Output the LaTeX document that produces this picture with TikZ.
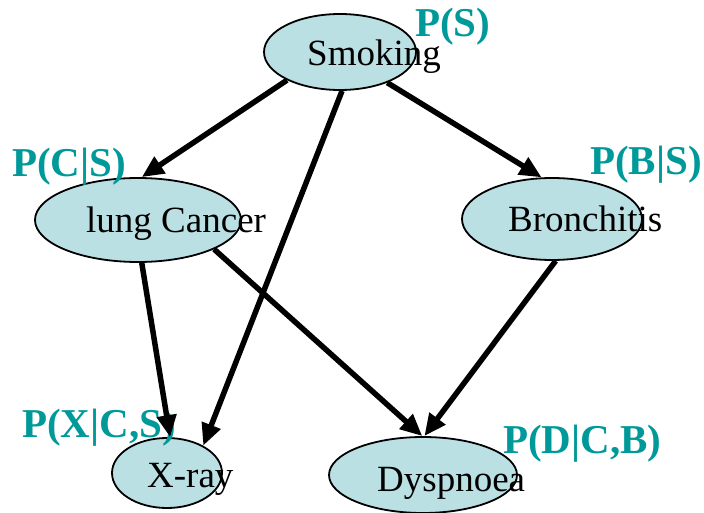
\documentclass[tikz,border=0pt]{standalone}
\usepackage{fontspec}
\setmainfont{Liberation Serif}
\usetikzlibrary{arrows.meta,shapes.geometric}
\definecolor{nodefill}{RGB}{186,224,228}
\definecolor{probteal}{RGB}{0,153,153}
\begin{document}
\begin{tikzpicture}[x=1pt,y=1pt,
  var/.style={ellipse, draw=black, line width=1.8pt, fill=nodefill, inner sep=0pt},
  vartext/.style={anchor=base west, inner sep=0pt, font=\fontsize{37}{40}\selectfont},
  prob/.style={anchor=base west, inner sep=0pt, text=probteal, font=\bfseries\fontsize{41}{44}\selectfont},
  edge/.style={line width=5.5pt, -{Triangle[length=22pt,width=19pt]}}]
\useasboundingbox (0,0) rectangle (704,-513);
% variables
\node[var, minimum width=152pt, minimum height=76pt] (smk) at (340,-52) {};
\node[var, minimum width=206pt, minimum height=84pt] (lc) at (138,-220) {};
\node[var, minimum width=180pt, minimum height=82pt] (br) at (552,-219) {};
\node[var, minimum width=110pt, minimum height=70pt] (xr) at (167,-473) {};
\node[var, minimum width=188pt, minimum height=76pt] (dy) at (423,-475) {};
% names
\node[vartext] (smkt) at (307,-66) {Smoking};
\node[vartext] (lct) at (86,-233) {lung Cancer};
\node[vartext] (brt) at (508,-232) {Bronchitis};
\node[vartext] (xrt) at (147,-487) {X-ray};
\node[vartext] (dyt) at (377,-491) {Dyspnoea};
% probabilities
\node[prob] (ps) at (415,-37) {P(S)};
\node[prob] (pcs) at (12,-177) {P(C|S)};
\node[prob] (pbs) at (590,-175) {P(B|S)};
\node[prob] (pxcs) at (22,-437) {P(X|C,S)};
\node[prob] (pdcb) at (503,-453) {P(D|C,B)};
% edges
\draw[edge] (smk.208) -- (lc.85);
\draw[edge] (smk.327) -- (br.104);
\draw[edge] (smk.273) -- (xr.37);
\draw[edge] (lc.275) -- (xr.85);
\draw[edge] (lc.339) -- (dy.91);
\draw[edge] (br.275) -- (dy.88);
\end{tikzpicture}
\end{document}
